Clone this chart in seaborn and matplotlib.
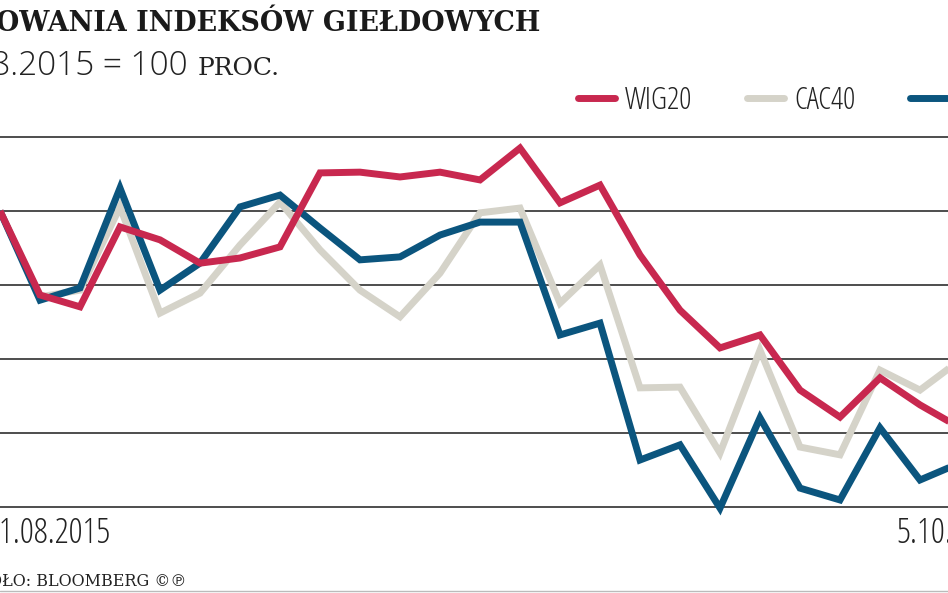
import matplotlib.pyplot as plt
import seaborn as sns
import pandas as pd
from matplotlib.lines import Line2D
from matplotlib.font_manager import FontProperties

# Dane: indeksy, 31.08.2015 = 100
sesje = list(range(25))
wig20 = [100.0, 97.73, 97.41, 99.57, 99.22, 98.59, 98.73, 99.03, 101.03, 101.05,
         100.92, 101.05, 100.84, 101.70, 100.22, 100.70, 98.81, 97.32, 96.30, 96.65,
         95.16, 94.43, 95.49, 94.76, 94.14]
cac40 = [100.0, 97.68, 97.86, 100.11, 97.24, 97.78, 99.08, 100.24, 98.95, 97.86,
         97.14, 98.32, 99.95, 100.08, 97.51, 98.54, 95.22, 95.24, 93.46, 96.24,
         93.62, 93.41, 95.70, 95.16, 95.97]
dax = [100.0, 97.59, 97.92, 100.62, 97.86, 98.59, 100.11, 100.43, 99.54, 98.68,
       98.76, 99.35, 99.70, 99.70, 96.65, 96.97, 93.27, 93.68, 91.97, 94.41,
       92.51, 92.19, 94.14, 92.73, 93.19]
daty = ['31.08.2015', '5.10.2015']
siatka = [92, 94, 96, 98, 100, 102]

kolory = {'WIG20': '#C8284F', 'CAC40': '#D5D3C9', 'DAX': '#0B557E'}

df = pd.DataFrame({'sesja': sesje * 3,
                   'wartosc': cac40 + dax + wig20,
                   'indeks': ['CAC40'] * 25 + ['DAX'] * 25 + ['WIG20'] * 25})

sns.set_theme(style='white')
plt.rcParams['font.family'] = ['DejaVu Sans']

W, H = 948, 593
fig = plt.figure(figsize=(W / 100, H / 100), dpi=100)
fig.patch.set_facecolor('white')

def fx(x):
    return x / W

def fy(y):
    return 1 - y / H

def krój(rozmiar, szer='condensed'):
    # lekki Open Sans, domyślnie w wersji wąskiej
    return FontProperties(family=['Open Sans', 'DejaVu Sans'], stretch=szer,
                          weight='light', size=rozmiar)

ax = fig.add_axes([0, fy(520), 1, (520 - 120) / H])
sns.lineplot(data=df, x='sesja', y='wartosc', hue='indeks',
             hue_order=['CAC40', 'DAX', 'WIG20'], palette=kolory,
             linewidth=5, legend=False, ax=ax)
for ln in ax.lines:
    ln.set_solid_joinstyle('miter')
    ln.set_solid_capstyle('butt')

ax.set_xlim(0, W / 40)
ax.set_ylim(100 - 309 / 37, 100 + 91 / 37)
ax.set_yticks(siatka)
ax.set_xticks([])
ax.yaxis.grid(True, color='#4d4d4d', linewidth=1.4)
ax.tick_params(left=False, labelleft=False)
ax.set_axisbelow(True)
ax.set_xlabel('')
ax.set_ylabel('')
sns.despine(ax=ax, left=True, bottom=True)
ax.set_facecolor('white')

# etykiety dat
trans = ax.get_xaxis_transform()
ax.text(-0.35, -0.058, daty[0], transform=trans, ha='left', va='baseline',
        fontproperties=krój(25), color='#222222', clip_on=False)
ax.text(25.2, -0.058, daty[1], transform=trans, ha='right', va='baseline',
        fontproperties=krój(25), color='#222222', clip_on=False)

# tytuł
fig.text(fx(540), fy(31), 'NOTOWANIA INDEKSÓW GIEŁDOWYCH', ha='right', va='baseline',
         fontsize=19.4, fontweight='bold', color='#1a1a1a', family=['DejaVu Serif'])
fig.text(fx(188), fy(75), '31.08.2015 = 100', ha='right', va='baseline',
         fontproperties=krój(24, 'normal'), color='#222222')
fig.text(fx(198), fy(75), 'PROC.', ha='left', va='baseline',
         fontsize=18, color='#222222', family=['DejaVu Serif'])

# legenda
uchwyty = [Line2D([], [], color=kolory[k], linewidth=5, solid_capstyle='round')
           for k in ['WIG20', 'CAC40', 'DAX']]
fig.legend(uchwyty, ['WIG20', 'CAC40', 'DAX'], loc='center left',
           bbox_to_anchor=(fx(578), fy(101)), ncol=3, frameon=False,
           prop=krój(22), handlelength=1.2, handletextpad=0.33,
           columnspacing=1.8, borderpad=0, borderaxespad=0,
           labelcolor='#222222')

# źródło
fig.text(fx(186), fy(586), 'ŹRÓDŁO: BLOOMBERG ©℗', ha='right', va='baseline',
         fontsize=11.5, color='#222222', family=['DejaVu Serif', 'DejaVu Sans'])
fig.add_artist(Line2D([0, 1], [fy(591), fy(591)], color='#bbbbbb', linewidth=1))

fig.savefig('out.png', dpi=100)
